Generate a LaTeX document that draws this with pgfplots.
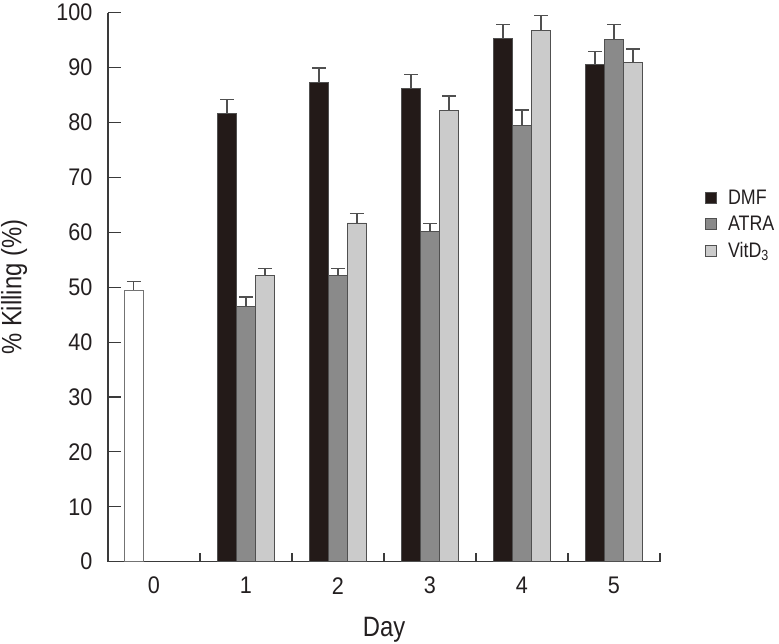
\documentclass[border=0pt]{standalone}
\usepackage{fontspec}
\setmainfont{Liberation Sans}[FakeStretch=0.85]
\newfontfamily\tickfont{Liberation Sans}[FakeStretch=0.9]
\usepackage{pgfplots}
\pgfplotsset{compat=1.18}
\definecolor{dmf}{HTML}{231A18}
\definecolor{atra}{HTML}{8A8A8A}
\definecolor{vitd}{HTML}{CBCBCB}
\definecolor{edge}{HTML}{505050}
\definecolor{axc}{HTML}{3A3A3A}
\definecolor{txt}{HTML}{231F20}
\pgfplotsset{
  barbase/.style={ybar, bar width=19pt, bar shift=0pt, draw=edge, line width=0.9pt,
    error bars/y dir=plus, error bars/y explicit,
    error bars/error bar style={draw=edge, line width=1.3pt},
    error bars/error mark options={rotate=90, mark size=7pt, line width=1.3pt, draw=edge}},
  legsq/.style={legend image code/.code={\draw[##1] (0pt,-5.5pt) rectangle (11pt,5.5pt);}},
}
\begin{document}
\begin{tikzpicture}
\useasboundingbox (-108pt,-81.3pt) rectangle (671pt,561.7pt);
\begin{axis}[
  at={(0pt,0pt)}, anchor=south west,
  scale only axis, width=552pt, height=549pt,
  xmin=-0.5, xmax=5.5, ymin=0, ymax=100,
  axis lines=left, axis line style={-, draw=axc, line width=1.3pt},
  clip=false,
  xtick={0,1,2,3,4,5},
  minor xtick={0.5,1.5,2.5,3.5,4.5,5.5},
  ytick={0,10,...,100},
  tick align=inside,
  major tick length=13pt, minor tick length=9pt,
  tick style={draw=axc, line width=1.1pt},
  major x tick style={draw=none},
  /pgf/number format/assume math mode=true,
  tick label style={font=\tickfont\fontsize{24}{27}\selectfont, text=txt},
  xticklabel style={anchor=center, yshift=-24pt},
  yticklabel style={xshift=-12pt},
  xlabel={Day}, ylabel={\% Killing (\%)},
  label style={font=\fontsize{28}{32}\selectfont, text=txt},
  xlabel style={at={(rel axis cs:0.5,-0.124)}, anchor=center},
  ylabel style={at={(rel axis cs:-0.17,0.5)}, anchor=center},
  legend style={at={(rel axis cs:1.076,0.684)}, anchor=north west, draw=none, fill=none,
    font=\fontsize{21}{24}\selectfont, text=txt, row sep=6pt},
  /tikz/every odd column/.append style={column sep=9pt},
  legend cell align=left,
]
\addplot[barbase, fill=white, draw=edge!80, forget plot]
  coordinates {(-0.22,49.4) +- (0,1.6)};
\addplot[barbase, fill=dmf, legsq]
  coordinates {(0.7935,81.6) +- (0,2.6) (1.7935,87.3) +- (0,2.6) (2.7935,86.2) +- (0,2.5) (3.7935,95.3) +- (0,2.5) (4.7935,90.5) +- (0,2.4)};
\addplot[barbase, fill=atra, legsq]
  coordinates {(1,46.5) +- (0,1.7) (2,52.1) +- (0,1.3) (3,60.1) +- (0,1.5) (4,79.4) +- (0,2.9) (5,95.2) +- (0,2.6)};
\addplot[barbase, fill=vitd, legsq]
  coordinates {(1.2065,52.1) +- (0,1.3) (2.2065,61.7) +- (0,1.7) (3.2065,82.2) +- (0,2.6) (4.2065,96.8) +- (0,2.7) (5.2065,91.0) +- (0,2.4)};
\legend{DMF, ATRA, VitD\textsubscript{3}}
\end{axis}
\end{tikzpicture}
\end{document}
